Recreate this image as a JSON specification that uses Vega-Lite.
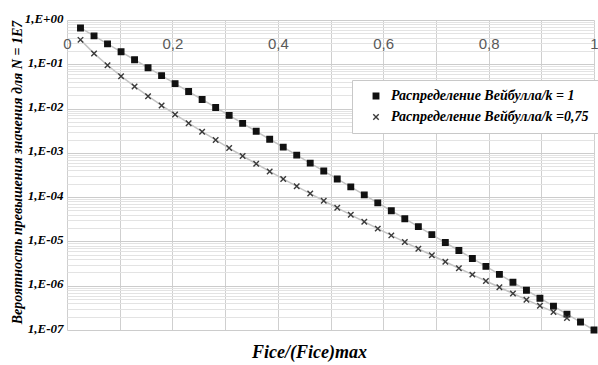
{
  "$schema": "https://vega.github.io/schema/vega-lite/v6.json",
  "width": 527,
  "height": 310,
  "autosize": {"type": "none"},
  "padding": {"left": 67, "top": 20, "right": 4, "bottom": 35},
  "background": "white",
  "config": {
    "view": {"stroke": null},
    "legend": {
      "orient": "none",
      "legendX": 285,
      "legendY": 60,
      "fillColor": "white",
      "strokeColor": "#c8c8c8",
      "padding": 9,
      "labelFont": "Liberation Serif",
      "labelFontSize": 14,
      "labelFontStyle": "italic",
      "labelFontWeight": "bold",
      "labelColor": "black",
      "labelLimit": 400,
      "symbolSize": 30,
      "symbolStrokeWidth": 1.4,
      "rowPadding": 7,
      "labelOffset": 8,
      "symbolOffset": 8
    }
  },
  "data": {
    "values": [
      {"x": 0.0256, "p": 0.6614, "s": "Распределение Вейбулла/k = 1"},
      {"x": 0.0513, "p": 0.4375, "s": "Распределение Вейбулла/k = 1"},
      {"x": 0.0769, "p": 0.2894, "s": "Распределение Вейбулла/k = 1"},
      {"x": 0.1026, "p": 0.1914, "s": "Распределение Вейбулла/k = 1"},
      {"x": 0.1282, "p": 0.1266, "s": "Распределение Вейбулла/k = 1"},
      {"x": 0.1538, "p": 0.08374, "s": "Распределение Вейбулла/k = 1"},
      {"x": 0.1795, "p": 0.05539, "s": "Распределение Вейбулла/k = 1"},
      {"x": 0.2051, "p": 0.03664, "s": "Распределение Вейбулла/k = 1"},
      {"x": 0.2308, "p": 0.02424, "s": "Распределение Вейбулла/k = 1"},
      {"x": 0.2564, "p": 0.01603, "s": "Распределение Вейбулла/k = 1"},
      {"x": 0.2821, "p": 0.0106, "s": "Распределение Вейбулла/k = 1"},
      {"x": 0.3077, "p": 0.007017, "s": "Распределение Вейбулла/k = 1"},
      {"x": 0.3333, "p": 0.004642, "s": "Распределение Вейбулла/k = 1"},
      {"x": 0.359, "p": 0.00307, "s": "Распределение Вейбулла/k = 1"},
      {"x": 0.3846, "p": 0.002031, "s": "Распределение Вейбулла/k = 1"},
      {"x": 0.4103, "p": 0.001343, "s": "Распределение Вейбулла/k = 1"},
      {"x": 0.4359, "p": 0.0008886, "s": "Распределение Вейбулла/k = 1"},
      {"x": 0.4615, "p": 0.0005878, "s": "Распределение Вейбулла/k = 1"},
      {"x": 0.4872, "p": 0.0003888, "s": "Распределение Вейбулла/k = 1"},
      {"x": 0.5128, "p": 0.0002572, "s": "Распределение Вейбулла/k = 1"},
      {"x": 0.5385, "p": 0.0001701, "s": "Распределение Вейбулла/k = 1"},
      {"x": 0.5641, "p": 0.0001125, "s": "Распределение Вейбулла/k = 1"},
      {"x": 0.5897, "p": 7.445e-5, "s": "Распределение Вейбулла/k = 1"},
      {"x": 0.6154, "p": 4.925e-5, "s": "Распределение Вейбулла/k = 1"},
      {"x": 0.641, "p": 3.257e-5, "s": "Распределение Вейбулла/k = 1"},
      {"x": 0.6667, "p": 2.154e-5, "s": "Распределение Вейбулла/k = 1"},
      {"x": 0.6923, "p": 1.425e-5, "s": "Распределение Вейбулла/k = 1"},
      {"x": 0.7179, "p": 9.427e-6, "s": "Распределение Вейбулла/k = 1"},
      {"x": 0.7436, "p": 6.236e-6, "s": "Распределение Вейбулла/k = 1"},
      {"x": 0.7692, "p": 4.125e-6, "s": "Распределение Вейбулла/k = 1"},
      {"x": 0.7949, "p": 2.729e-6, "s": "Распределение Вейбулла/k = 1"},
      {"x": 0.8205, "p": 1.805e-6, "s": "Распределение Вейбулла/k = 1"},
      {"x": 0.8462, "p": 1.194e-6, "s": "Распределение Вейбулла/k = 1"},
      {"x": 0.8718, "p": 7.898e-7, "s": "Распределение Вейбулла/k = 1"},
      {"x": 0.8974, "p": 5.224e-7, "s": "Распределение Вейбулла/k = 1"},
      {"x": 0.9231, "p": 3.455e-7, "s": "Распределение Вейбулла/k = 1"},
      {"x": 0.9487, "p": 2.286e-7, "s": "Распределение Вейбулла/k = 1"},
      {"x": 0.9744, "p": 1.512e-7, "s": "Распределение Вейбулла/k = 1"},
      {"x": 1.0, "p": 1.0e-7, "s": "Распределение Вейбулла/k = 1"},
      {"x": 0.0256, "p": 0.356, "s": "Распределение Вейбулла/k =0,75"},
      {"x": 0.0513, "p": 0.1761, "s": "Распределение Вейбулла/k =0,75"},
      {"x": 0.0769, "p": 0.09497, "s": "Распределение Вейбулла/k =0,75"},
      {"x": 0.1026, "p": 0.05387, "s": "Распределение Вейбулла/k =0,75"},
      {"x": 0.1282, "p": 0.03165, "s": "Распределение Вейбулла/k =0,75"},
      {"x": 0.1538, "p": 0.01908, "s": "Распределение Вейбулла/k =0,75"},
      {"x": 0.1795, "p": 0.01174, "s": "Распределение Вейбулла/k =0,75"},
      {"x": 0.2051, "p": 0.007352, "s": "Распределение Вейбулла/k =0,75"},
      {"x": 0.2308, "p": 0.004671, "s": "Распределение Вейбулла/k =0,75"},
      {"x": 0.2564, "p": 0.003005, "s": "Распределение Вейбулла/k =0,75"},
      {"x": 0.2821, "p": 0.001953, "s": "Распределение Вейбулла/k =0,75"},
      {"x": 0.3077, "p": 0.001283, "s": "Распределение Вейбулла/k =0,75"},
      {"x": 0.3333, "p": 0.0008496, "s": "Распределение Вейбулла/k =0,75"},
      {"x": 0.359, "p": 0.0005672, "s": "Распределение Вейбулла/k =0,75"},
      {"x": 0.3846, "p": 0.0003814, "s": "Распределение Вейбулла/k =0,75"},
      {"x": 0.4103, "p": 0.0002581, "s": "Распределение Вейбулла/k =0,75"},
      {"x": 0.4359, "p": 0.0001758, "s": "Распределение Вейбулла/k =0,75"},
      {"x": 0.4615, "p": 0.0001203, "s": "Распределение Вейбулла/k =0,75"},
      {"x": 0.4872, "p": 8.288e-5, "s": "Распределение Вейбулла/k =0,75"},
      {"x": 0.5128, "p": 5.73e-5, "s": "Распределение Вейбулла/k =0,75"},
      {"x": 0.5385, "p": 3.982e-5, "s": "Распределение Вейбулла/k =0,75"},
      {"x": 0.5641, "p": 2.779e-5, "s": "Распределение Вейбулла/k =0,75"},
      {"x": 0.5897, "p": 1.946e-5, "s": "Распределение Вейбулла/k =0,75"},
      {"x": 0.6154, "p": 1.369e-5, "s": "Распределение Вейбулла/k =0,75"},
      {"x": 0.641, "p": 9.669e-6, "s": "Распределение Вейбулла/k =0,75"},
      {"x": 0.6667, "p": 6.851e-6, "s": "Распределение Вейбулла/k =0,75"},
      {"x": 0.6923, "p": 4.868e-6, "s": "Распределение Вейбулла/k =0,75"},
      {"x": 0.7179, "p": 3.472e-6, "s": "Распределение Вейбулла/k =0,75"},
      {"x": 0.7436, "p": 2.482e-6, "s": "Распределение Вейбулла/k =0,75"},
      {"x": 0.7692, "p": 1.78e-6, "s": "Распределение Вейбулла/k =0,75"},
      {"x": 0.7949, "p": 1.281e-6, "s": "Распределение Вейбулла/k =0,75"},
      {"x": 0.8205, "p": 9.237e-7, "s": "Распределение Вейбулла/k =0,75"},
      {"x": 0.8462, "p": 6.677e-7, "s": "Распределение Вейбулла/k =0,75"},
      {"x": 0.8718, "p": 4.839e-7, "s": "Распределение Вейбулла/k =0,75"},
      {"x": 0.8974, "p": 3.514e-7, "s": "Распределение Вейбулла/k =0,75"},
      {"x": 0.9231, "p": 2.559e-7, "s": "Распределение Вейбулла/k =0,75"},
      {"x": 0.9487, "p": 1.867e-7, "s": "Распределение Вейбулла/k =0,75"}
    ]
  },
  "encoding": {
    "x": {
      "field": "x",
      "type": "quantitative",
      "scale": {"domain": [0, 1], "nice": false, "zero": false},
      "axis": {
        "orient": "top",
        "values": [0, 0.1, 0.2, 0.3, 0.4, 0.5, 0.6, 0.7, 0.8, 0.9, 1],
        "labelExpr": "round(datum.value * 10) % 2 == 0 ? replace(format(datum.value, '~g'), '.', ',') : ''",
        "labelFlush": false,
        "labelOverlap": false,
        "labelBound": false,
        "labelPadding": -16,
        "labelBaseline": "top",
        "labelFont": "Liberation Sans",
        "labelFontSize": 15,
        "labelColor": "#595959",
        "tickSize": 0,
        "ticks": false,
        "domain": false,
        "grid": true,
        "gridColor": "#cfcfcf",
        "gridWidth": 1,
        "title": "Fice/(Fice)max",
        "titleFont": "Liberation Serif",
        "titleFontSize": 18,
        "titleFontStyle": "italic",
        "titleFontWeight": "bold",
        "titleColor": "black",
        "titleX": 242,
        "titleY": 332,
        "titleAlign": "center",
        "titleBaseline": "middle"
      }
    },
    "y": {
      "field": "p",
      "type": "quantitative",
      "scale": {"type": "log", "domain": [1e-7, 1], "nice": false},
      "axis": {
        "values": [1e-7, 2e-7, 3e-7, 4e-7, 5e-7, 6e-7, 7e-7, 8e-7, 9e-7,
                   1e-6, 2e-6, 3e-6, 4e-6, 5e-6, 6e-6, 7e-6, 8e-6, 9e-6,
                   1e-5, 2e-5, 3e-5, 4e-5, 5e-5, 6e-5, 7e-5, 8e-5, 9e-5,
                   1e-4, 2e-4, 3e-4, 4e-4, 5e-4, 6e-4, 7e-4, 8e-4, 9e-4,
                   1e-3, 2e-3, 3e-3, 4e-3, 5e-3, 6e-3, 7e-3, 8e-3, 9e-3,
                   1e-2, 2e-2, 3e-2, 4e-2, 5e-2, 6e-2, 7e-2, 8e-2, 9e-2,
                   1e-1, 2e-1, 3e-1, 4e-1, 5e-1, 6e-1, 7e-1, 8e-1, 9e-1, 1],
        "labelExpr": "abs(log(datum.value) / LN10 - round(log(datum.value) / LN10)) < 1e-6 ? ('1,E' + (datum.value >= 0.5 ? '+00' : '-0' + round(-log(datum.value) / LN10))) : ''",
        "labelOverlap": false,
        "labelBound": false,
        "labelFlush": false,
        "labelPadding": 4,
        "labelOffset": -2,
        "labelFont": "Liberation Serif",
        "labelFontSize": 13,
        "labelFontStyle": "italic",
        "labelFontWeight": "bold",
        "labelColor": "black",
        "ticks": false,
        "tickSize": 0,
        "domain": false,
        "grid": true,
        "gridColor": {
          "condition": {"test": "abs(log(datum.value) / LN10 - round(log(datum.value) / LN10)) < 1e-6", "value": "#cccccc"},
          "value": "#e3e3e3"
        },
        "title": "Вероятность превышения значения для N = 1E7",
        "titleFont": "Liberation Serif",
        "titleFontSize": 14,
        "titleFontStyle": "italic",
        "titleFontWeight": "bold",
        "titleColor": "black",
        "titleAngle": 270,
        "titleX": -50,
        "titleY": 152,
        "titleAlign": "center",
        "titleBaseline": "middle"
      }
    }
  },
  "layer": [
    {
      "mark": {"type": "line", "color": "#c4c4c4", "strokeWidth": 1.5},
      "encoding": {"detail": {"field": "s", "type": "nominal"}}
    },
    {
      "mark": {"type": "point", "size": 30, "strokeWidth": 1.4, "opacity": 1},
      "encoding": {
        "shape": {
          "field": "s", "type": "nominal", "title": null,
          "scale": {"domain": ["Распределение Вейбулла/k = 1", "Распределение Вейбулла/k =0,75"], "range": ["square", "M-1,-1L1,1M1,-1L-1,1"]}
        },
        "fill": {
          "field": "s", "type": "nominal", "title": null,
          "scale": {"domain": ["Распределение Вейбулла/k = 1", "Распределение Вейбулла/k =0,75"], "range": ["#111111", "transparent"]}
        },
        "stroke": {
          "field": "s", "type": "nominal", "title": null,
          "scale": {"domain": ["Распределение Вейбулла/k = 1", "Распределение Вейбулла/k =0,75"], "range": ["#111111", "#3a3a3a"]}
        }
      }
    }
  ]
}
